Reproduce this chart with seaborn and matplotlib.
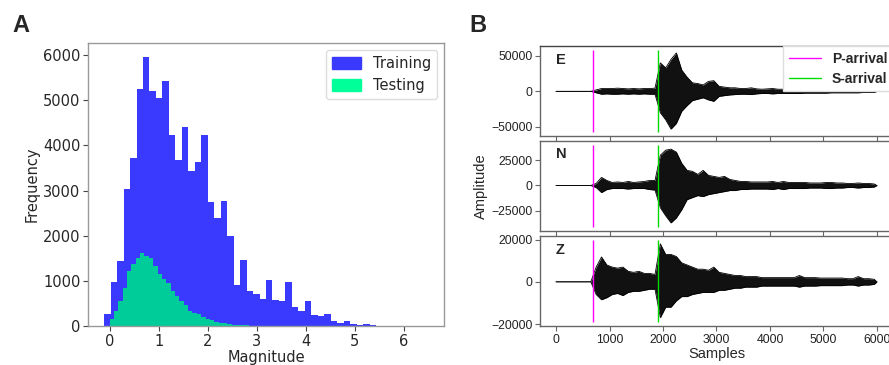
import numpy as np
import pandas as pd
import matplotlib
matplotlib.use("Agg")
import matplotlib.pyplot as plt
import seaborn as sns
from matplotlib.patches import Patch
from matplotlib.lines import Line2D

# ---------------- data ----------------
# Panel A: magnitude histograms (counts per bin)
train_bin_start = -0.11
train_bin_width = 0.132
train_counts = [270, 970, 1430, 3030, 3720, 5250, 5960, 5210, 5060, 5430,
                4240, 3670, 4400, 3430, 3630, 4230, 2745, 2400, 2760, 1990,
                910, 1460, 780, 720, 605, 1020, 575, 555, 970, 430,
                340, 560, 250, 220, 265, 105, 75, 120, 45, 30,
                45, 15, 10, 8, 5, 5, 3, 3, 2, 2]
test_bin_start = 0.0
test_bin_width = 0.089
test_counts = [148, 340, 553, 849, 1218, 1365, 1498, 1609, 1557, 1498,
               1336, 1151, 1048, 945, 782, 672, 553, 465, 340, 295,
               266, 207, 162, 133, 96, 74, 66, 44, 30, 22,
               15, 12, 10, 8, 6, 5, 4, 3, 3, 2,
               2, 1, 1, 1, 1, 0, 0, 0, 0, 1]
hist_labels = ["Training", "Testing"]

# Panel B: three-component waveform, max/min amplitude (x1000) per 100-sample window
window = 100
n_samples = 6000
amp_scale = 1000
E_up = [0, 0, 0, 0, 0, 0, 0, 2,
        4, 4, 4, 4.5, 4, 3.5, 4, 3.5, 4, 4, 4.5,
        40, 33, 45, 54, 30, 20, 12, 11, 9, 14, 15,
        7, 6, 5, 5, 4, 4, 5, 3.5, 3, 3.5,
        4, 3, 3, 3, 3, 3.5, 3, 2.5, 2.5, 2.5,
        2.5, 2, 2, 2, 2, 2, 2, 2, 1.5, 1.5]
E_lo = [0, 0, 0, 0, 0, 0, 0, -2,
        -4, -3.5, -4, -4, -3.5, -4, -3.5, -4, -3.5, -4, -4,
        -30, -40, -53, -45, -28, -20, -13, -11, -9, -12, -14,
        -7, -6, -5, -4.5, -4, -4, -4.5, -3.5, -3, -3,
        -3.5, -3, -3, -3, -3, -3, -2.5, -2.5, -2.5, -2.5,
        -2.5, -2, -2, -2, -2, -2, -2, -1.5, -1.5, -1.5]
N_up = [0, 0, 0, 0, 0, 0, 0, 2,
        8, 5, 3, 3.5, 3, 4, 3, 3.5, 4, 5, 5,
        30, 35, 36, 33, 22, 15, 14, 11, 15, 10, 9,
        8, 9, 6, 5, 4, 4, 3.5, 3.5, 3.5, 3.5,
        4, 3, 4, 3, 3, 3, 3, 2.5, 2.5, 2.5,
        3, 3, 2.5, 2.5, 2, 2, 2.5, 2, 2, 1.5]
N_lo = [0, 0, 0, 0, 0, 0, 0, -2,
        -7, -4, -3, -3, -3, -3.5, -3, -3, -3, -4, -4.5,
        -22, -30, -37, -32, -24, -14, -12, -10, -11, -9, -8,
        -7, -6, -5, -5, -4, -4, -3.5, -3.5, -3.5, -3.5,
        -4, -3, -4, -3, -3, -3, -3, -2.5, -2.5, -2.5,
        -3, -3, -2.5, -2.5, -2, -2, -2.5, -2, -2, -1.5]
Z_up = [0, 0, 0, 0, 0, 0, 0, 7,
        11.8, 8, 7, 6.5, 7, 5, 4.5, 5, 4, 4, 3.5,
        18, 13, 13, 12, 9, 8, 7, 6, 6, 5.5, 7,
        4.5, 4, 3.5, 3, 3, 2.5, 2.5, 2.5, 2, 2,
        2, 2, 2, 2, 2, 3, 2, 2, 2, 1.8,
        1.8, 1.8, 1.8, 1.8, 1.5, 1.5, 2.5, 1.5, 1.5, 1.2]
Z_lo = [0, 0, 0, 0, 0, 0, 0, -6,
        -8.5, -7.5, -6, -5.5, -6.5, -5, -4.5, -4.5, -4, -3.5, -3.5,
        -17, -12, -12, -9, -7, -7, -6, -5.5, -5, -5, -5,
        -4, -4, -3.5, -3, -3, -2.5, -2.5, -2.5, -2, -2,
        -2, -2, -2, -2, -2, -2.5, -2, -2, -2, -1.8,
        -1.8, -1.8, -1.8, -1.8, -1.5, -1.5, -2, -1.5, -1.5, -1.2]
components = ["E", "N", "Z"]
p_arrival = 700
s_arrival = 1900
arrival_extent = [(-57000, 58000), (-41000, 40000), (-19000, 19800)]
yticks_B = [[-50000, 0, 50000], [-25000, 0, 25000], [-20000, 0, 20000]]
arrival_labels = ["P-arrival", "S-arrival"]

# ---------------- style ----------------
sns.set_style("ticks")
plt.rcParams["font.family"] = ["DejaVu Sans"]

W, H = 889, 365
fig = plt.figure(figsize=(W / 100, H / 100), dpi=100)

def box(l, t, r, b):
    return [l / W, 1 - b / H, (r - l) / W, (b - t) / H]

train_col = "#3a3aff"
test_col = "#00cc99"
test_leg_col = "#00ff99"

# ---------------- panel A ----------------
axA = fig.add_axes(box(88, 43, 444, 326))
tr_edges = [float(v) for v in train_bin_start + train_bin_width * np.arange(len(train_counts) + 1)]
te_edges = [float(v) for v in test_bin_start + test_bin_width * np.arange(len(test_counts) + 1)]
df_tr = pd.DataFrame({"mag": [(a + b) / 2 for a, b in zip(tr_edges[:-1], tr_edges[1:])],
                      "n": train_counts})
df_te = pd.DataFrame({"mag": [(a + b) / 2 for a, b in zip(te_edges[:-1], te_edges[1:])],
                      "n": test_counts})
sns.histplot(data=df_tr, x="mag", weights="n", bins=tr_edges, element="step",
             fill=True, color=train_col, alpha=1, linewidth=0, ax=axA)
sns.histplot(data=df_te, x="mag", weights="n", bins=te_edges, element="step",
             fill=True, color=test_col, alpha=1, linewidth=0, ax=axA)
axA.set_xlim(-0.44, 6.82)
axA.set_ylim(0, 6270)
axA.set_xticks(range(0, 7))
axA.set_yticks(range(0, 6001, 1000))
axA.set_xlabel("Magnitude", fontsize=10.5, labelpad=1)
axA.set_ylabel("Frequency", fontsize=10.5, labelpad=2)
axA.tick_params(labelsize=10.5, length=3.5, width=0.8, pad=2, color="#444444")
for s in axA.spines.values():
    s.set_color("#999999")
    s.set_linewidth(1.0)
axA.legend(handles=[Patch(color=train_col), Patch(color=test_leg_col)],
           labels=hist_labels, loc="upper right", fontsize=10.5,
           handlelength=2.0, handleheight=0.9, borderaxespad=0.5, framealpha=1,
           edgecolor="#dddddd")

# ---------------- panel B ----------------
ups = [E_up, N_up, Z_up]
los = [E_lo, N_lo, Z_lo]
rows = [(46, 136), (141, 231), (236, 326)]
axesB = []
for k, comp in enumerate(components):
    t, b = rows[k]
    ax = fig.add_axes(box(540, t, 893, b))
    axesB.append(ax)
    centers = [0] + [i * window + window / 2 for i in range(len(ups[k]))] + [n_samples]
    up = [0.0] + [v * amp_scale for v in ups[k]] + [0.0]
    lo_ = [0.0] + [v * amp_scale for v in los[k]] + [0.0]
    env = pd.DataFrame({"sample": centers * 2, "amp": up + lo_,
                        "side": ["max"] * len(up) + ["min"] * len(lo_)})
    sns.lineplot(data=env, x="sample", y="amp", units="side", estimator=None,
                 sort=False, color="black", linewidth=0.6, ax=ax, legend=False)
    ax.fill_between(centers, lo_, up, color="#111111", linewidth=0)
    lo, hi = arrival_extent[k]
    ax.vlines(p_arrival, lo, hi, color="#ff00ff", linewidth=1.0)
    ax.vlines(s_arrival, lo, hi, color="#00dd00", linewidth=1.0)
    ax.set_xlim(-300, 6300)
    ax.set_yticks(yticks_B[k])
    ax.set_xticks(range(0, 6001, 1000))
    ax.set_xlabel("")
    ax.set_ylabel("")
    ax.text(0.045, 0.85, comp, transform=ax.transAxes, fontsize=10.5,
            fontweight="bold", family=["Liberation Sans"], va="center", ha="left")
    ax.tick_params(labelsize=8.8, length=3.5, width=0.8, pad=2, color="#666666",
                   labelcolor="#222222")
    for lab in ax.get_xticklabels() + ax.get_yticklabels():
        lab.set_family(["Liberation Sans"])
    for s in ax.spines.values():
        s.set_color("#666666")
        s.set_linewidth(1.0)
    if k < 2:
        ax.tick_params(labelbottom=False)

axesB[0].spines["top"].set_color("#444444")
leg = axesB[0].legend(
    handles=[Line2D([], [], color="#ff00ff", lw=1.0), Line2D([], [], color="#00dd00", lw=1.0)],
    labels=arrival_labels, loc="upper right", borderaxespad=0, fancybox=False,
    prop={"family": "Liberation Sans", "weight": "bold", "size": 10},
    framealpha=1, edgecolor="#dddddd", handlelength=2.3, labelspacing=0.45)
axesB[2].set_xlabel("Samples", fontsize=10.5, family=["Liberation Sans"], labelpad=1)
fig.text(481 / W, 1 - 186 / H, "Amplitude", rotation=90, fontsize=10.5,
         family=["Liberation Sans"], ha="center", va="center")

# panel letters
fig.text(12 / W, 1 - 25 / H, "A", fontsize=17, fontweight="bold",
         family=["Liberation Sans"], ha="left", va="center")
fig.text(469 / W, 1 - 25 / H, "B", fontsize=17, fontweight="bold",
         family=["Liberation Sans"], ha="left", va="center")

fig.savefig("out.png", dpi=100)
